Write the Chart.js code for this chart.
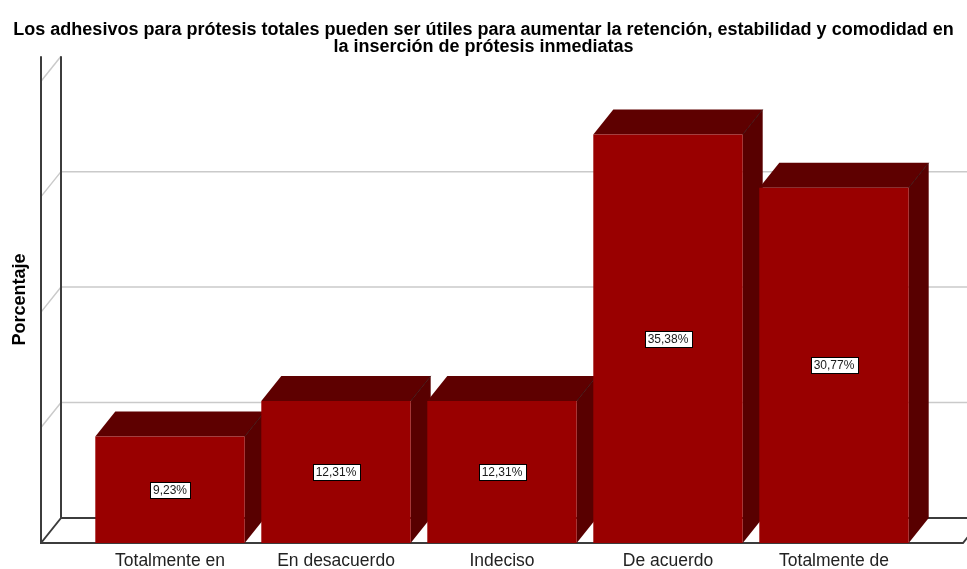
<!DOCTYPE html>
<html>
<head>
<meta charset="utf-8">
<script src="https://cdn.jsdelivr.net/npm/chart.js@4.4.0/dist/chart.umd.min.js"></script>
<style>
  html, body { margin: 0; padding: 0; background: #fff; }
</style>
</head>
<body>
<canvas id="myChart" width="967" height="569"></canvas>
<script>
var categories = [
  ['Totalmente en', 'desacuerdo'],
  'En desacuerdo',
  'Indeciso',
  'De acuerdo',
  ['Totalmente de', 'acuerdo']
];
var porcentajes = [9.23, 12.31, 12.31, 35.38, 30.77];
var titulo = [
  'Los adhesivos para prótesis totales pueden ser útiles para aumentar la retención, estabilidad y comodidad en',
  'la inserción de prótesis inmediatas'
];
var ejeY = 'Porcentaje';

var FONT = '"Liberation Sans", Arial, sans-serif';
var DEPTH_X = 20, DEPTH_Y = 25, FRAME_PAD = 46;
var FRONT = '#990000', TOP = '#5e0000', SIDE = '#580000';
var AXIS_COLOR = '#3c3c3c', GRID_COLOR = '#cacaca';

function poly(ctx, pts) {
  ctx.beginPath();
  ctx.moveTo(pts[0][0], pts[0][1]);
  for (var i = 1; i < pts.length; i++) ctx.lineTo(pts[i][0], pts[i][1]);
  ctx.closePath();
  ctx.fill();
}

// walls, floor and the depth faces of the bars
var box3d = {
  id: 'box3d',
  beforeDatasetsDraw: function(chart) {
    var ctx = chart.ctx, area = chart.chartArea, y = chart.scales.y;
    var fl = area.left - FRAME_PAD, fr = area.right + FRAME_PAD;
    var bl = fl + DEPTH_X;
    var y0 = y.getPixelForValue(0);
    var yTop = y.getPixelForValue(y.max) - DEPTH_Y;
    ctx.save();

    ctx.strokeStyle = GRID_COLOR;
    ctx.lineWidth = 1.5;
    y.ticks.forEach(function(t) {
      if (t.value === 0) return;
      var py = y.getPixelForValue(t.value);
      ctx.beginPath();
      ctx.moveTo(fl, py);
      ctx.lineTo(bl, py - DEPTH_Y);
      if (t.value < y.max) ctx.lineTo(chart.width, py - DEPTH_Y);
      ctx.stroke();
    });

    ctx.strokeStyle = AXIS_COLOR;
    ctx.lineWidth = 2;
    ctx.beginPath();
    ctx.moveTo(fl, yTop); ctx.lineTo(fl, y0); ctx.lineTo(fr, y0);
    ctx.lineTo(fr + DEPTH_X, y0 - DEPTH_Y);
    ctx.moveTo(bl, yTop); ctx.lineTo(bl, y0 - DEPTH_Y); ctx.lineTo(chart.width, y0 - DEPTH_Y);
    ctx.moveTo(fl, y0); ctx.lineTo(bl, y0 - DEPTH_Y);
    ctx.stroke();

    chart.getDatasetMeta(0).data.forEach(function(bar) {
      var l = bar.x - bar.width / 2, r = bar.x + bar.width / 2;
      ctx.fillStyle = SIDE;
      poly(ctx, [[r, bar.y], [r + DEPTH_X, bar.y - DEPTH_Y], [r + DEPTH_X, bar.base - DEPTH_Y], [r, bar.base]]);
      ctx.fillStyle = TOP;
      poly(ctx, [[l, bar.y], [l + DEPTH_X, bar.y - DEPTH_Y], [r + DEPTH_X, bar.y - DEPTH_Y], [r, bar.y]]);
      ctx.strokeStyle = 'rgba(40,0,0,0.7)';
      ctx.lineWidth = 1;
      ctx.beginPath();
      ctx.moveTo(r, bar.y); ctx.lineTo(r + DEPTH_X, bar.y - DEPTH_Y);
      ctx.stroke();
    });
    ctx.restore();
  },
  afterDatasetsDraw: function(chart) {
    var ctx = chart.ctx;
    ctx.save();
    ctx.font = '12px ' + FONT;
    ctx.textAlign = 'center';
    ctx.textBaseline = 'middle';
    chart.getDatasetMeta(0).data.forEach(function(bar, i) {
      var txt = porcentajes[i].toFixed(2).replace('.', ',') + '%';
      var w = Math.round(ctx.measureText(txt).width) + 6, h = 16;
      var cx = bar.x, cy = (bar.y + bar.base) / 2;
      var rx = Math.round(cx - w / 2) + 0.5, ry = Math.round(cy - h / 2) + 0.5;
      ctx.fillStyle = '#fff';
      ctx.fillRect(rx, ry, w, h);
      ctx.strokeStyle = '#000';
      ctx.lineWidth = 1;
      ctx.strokeRect(rx, ry, w, h);
      ctx.fillStyle = '#1a1a1a';
      ctx.fillText(txt, cx, cy + 0.5);
    });
    ctx.restore();
  },
  afterDraw: function(chart) {
    var ctx = chart.ctx, y = chart.scales.y;
    var mid = (y.getPixelForValue(0) + y.getPixelForValue(y.max) - DEPTH_Y) / 2;
    ctx.save();
    ctx.translate(20, mid);
    ctx.rotate(-Math.PI / 2);
    ctx.font = 'bold 18px ' + FONT;
    ctx.textAlign = 'center';
    ctx.textBaseline = 'middle';
    ctx.fillStyle = '#000';
    ctx.fillText(ejeY, 0, 0);
    ctx.restore();
  }
};

var ctx = document.getElementById('myChart');
var chart = new Chart(ctx, {
  type: 'bar',
  data: {
    labels: categories,
    datasets: [{
      data: porcentajes,
      backgroundColor: FRONT,
      borderWidth: 0,
      barPercentage: 0.9,
      categoryPercentage: 1
    }]
  },
  options: {
    responsive: false,
    animation: false,
    devicePixelRatio: 1,
    plugins: {
      legend: { display: false },
      tooltip: { enabled: false },
      title: {
        display: true,
        text: titulo,
        color: '#000',
        font: { family: FONT, size: 18, weight: 'bold', lineHeight: 0.95 },
        padding: { top: 21, bottom: 26 }
      }
    },
    scales: {
      x: {
        grid: { display: false, drawTicks: false },
        border: { display: false },
        ticks: {
          color: '#222',
          font: { family: FONT, size: 17.5 },
          padding: 8,
          maxRotation: 0,
          autoSkip: false
        },
        afterFit: function(s) { s.height = 26; }
      },
      y: {
        min: 0,
        max: 40,
        ticks: { display: false, stepSize: 10 },
        grid: { display: false, drawTicks: false },
        border: { display: false },
        afterFit: function(s) { s.width = 87; }
      },
      yRight: {
        position: 'right',
        ticks: { display: false },
        grid: { display: false, drawTicks: false },
        border: { display: false },
        afterFit: function(s) { s.width = 50; }
      }
    }
  },
  plugins: [box3d]
});
</script>
</body>
</html>
